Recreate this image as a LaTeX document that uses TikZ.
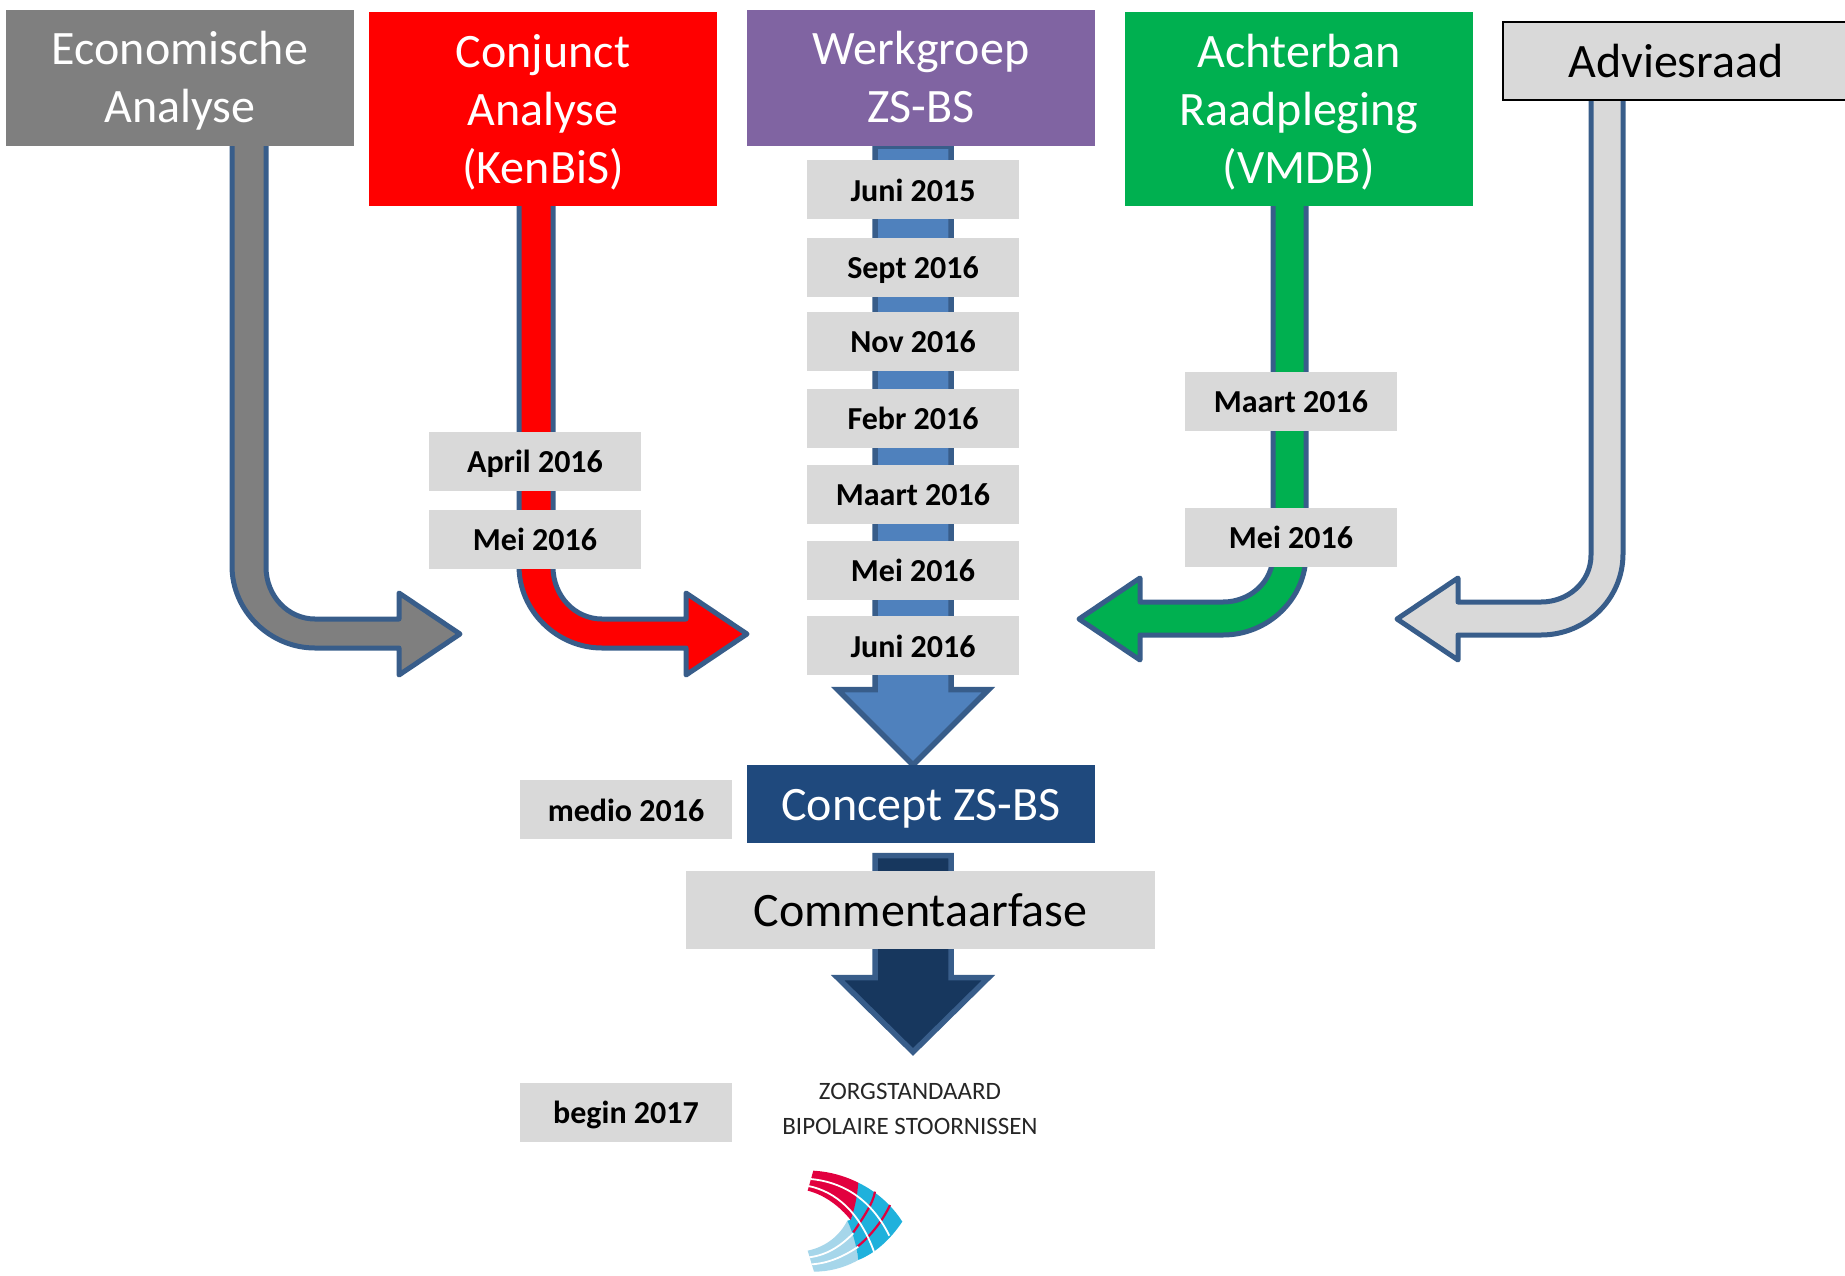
\documentclass[tikz,border=0pt]{standalone}
\usepackage{fontspec}
\usetikzlibrary{backgrounds}
\setmainfont{Carlito}
\definecolor{lgrey}{HTML}{D9D9D9}
\definecolor{mgrey}{HTML}{7F7F7F}
\definecolor{purp}{HTML}{8064A2}
\definecolor{grn}{HTML}{00B050}
\definecolor{navy}{HTML}{1F497D}
\definecolor{navyd}{HTML}{17375E}
\definecolor{arrowedge}{HTML}{385D8A}
\definecolor{blu}{HTML}{4F81BD}
\definecolor{lred}{HTML}{E2003F}
\definecolor{lcy}{HTML}{1FB1DC}
\definecolor{llb}{HTML}{A6D6EA}
\newcommand{\bs}{\rule[-12.7pt]{0pt}{58pt}}
\newcommand{\bt}{\rule[-13.8pt]{0pt}{58pt}}
\newcommand{\ds}{\rule[-18pt]{0pt}{59pt}}
\tikzset{
 x=1pt,y=-1pt,
 blockarrow/.style={draw=arrowedge,line width=5pt,line join=round},
 straightarrow/.style={draw=arrowedge,line width=5.5pt,miter limit=10},
 bigbox/.style={draw=none,inner sep=0pt,outer sep=0pt,align=center,font=\fontsize{48}{58}\selectfont,text=white},
 datebox/.style={fill=lgrey,minimum width=212pt,minimum height=59pt,inner sep=0pt,outer sep=0pt,font=\fontsize{32}{34}\selectfont\bfseries,text=black},
}
\begin{document}
\begin{tikzpicture}
\useasboundingbox (0,0) rectangle (1845,1275);
% header boxes
\node[bigbox,fill=mgrey,minimum width=348pt,minimum height=136pt] (eco) at (180,78) {\bt Economische\\\bt Analyse};
\node[bigbox,fill=red,minimum width=348pt,minimum height=194pt] (con) at (543,109) {\bs Conjunct\\\bs Analyse\\\bs (KenBiS)};
\node[bigbox,fill=purp,minimum width=348pt,minimum height=136pt] (wer) at (921,78) {\bt Werkgroep\\\bt ZS-BS};
\node[bigbox,fill=grn,minimum width=348pt,minimum height=194pt] (ach) at (1299,109) {\bs Achterban\\\bs Raadpleging\\\bs (VMDB)};
\path[fill=lgrey,draw=black,line width=1.5pt] (1845,22) -- (1503,22) -- (1503,100) -- (1845,100);
\node[bigbox,text=black,minimum height=78pt] (adv) at (1676,61) {\bs Adviesraad};
\node[bigbox,fill=navy,minimum width=348pt,minimum height=78pt] (cpt) at (921,804) {\bs Concept ZS-BS};
\node[bigbox,fill=lgrey,text=black,minimum width=469pt,minimum height=78pt] (com) at (920.5,910) {\bs Commentaarfase};
% dates
\node[datebox] (d1) at (913,189.5) {\ds Juni 2015};
\node[datebox] (d2) at (913,267) {\ds Sept 2016};
\node[datebox] (d3) at (913,341) {\ds Nov 2016};
\node[datebox] (d4) at (913,418) {\ds Febr 2016};
\node[datebox] (d5) at (913,494) {\ds Maart 2016};
\node[datebox] (d6) at (913,570) {\ds Mei 2016};
\node[datebox] (d7) at (913,645.5) {\ds Juni 2016};
\node[datebox] (r1) at (535,461) {\ds April 2016};
\node[datebox] (r2) at (535,539) {\ds Mei 2016};
\node[datebox] (g1) at (1291,401) {\ds Maart 2016};
\node[datebox] (g2) at (1291,537) {\ds Mei 2016};
\node[datebox] (med) at (626,809.5) {\ds medio 2016};
\node[datebox] (beg) at (626,1112) {\ds begin 2017};
\node[font=\fontsize{25}{34.5}\selectfont,align=center,text=black!85,inner sep=0pt] (zs) at (910,1109) {ZORGSTANDAARD\\BIPOLAIRE STOORNISSEN};
% arrow end points
\coordinate (ecoL) at (232,0);
\coordinate (ecoR) at (266,0);
\coordinate (conL) at (519,0);
\coordinate (conR) at (553,0);
\coordinate (achL) at (1273,0);
\coordinate (achR) at (1306,0);
\coordinate (advL) at (1591,0);
\coordinate (advR) at (1623,0);
\coordinate (werL) at (875,0);
\coordinate (werM) at (913,0);
\coordinate (werR) at (951,0);
\coordinate (ecoTip) at (460,634);
\coordinate (conTip) at (747,634);
\coordinate (achTip) at (1079,619);
\coordinate (advTip) at (1397,619);
\coordinate (comTip) at (913,1052);
\begin{scope}[on background layer]
% bent arrows
\draw[blockarrow,fill=mgrey] (ecoL |- eco.south) -- (232,566) .. controls (232,611) and (270,648) .. (315,648) -- (399,648) -- (399,675) -- (ecoTip) -- (399,593) -- (399,619) -- (315,619) .. controls (288,619) and (266,596) .. (266,567) -- (ecoR |- eco.south);
\draw[blockarrow,fill=red] (conL |- con.south) -- (519,566) .. controls (519,611) and (557,648) .. (602,648) -- (686,648) -- (686,675) -- (conTip) -- (686,593) -- (686,619) -- (602,619) .. controls (575,619) and (553,596) .. (553,567) -- (conR |- con.south);
\draw[blockarrow,fill=grn] (achR |- ach.south) -- (1306,554) .. controls (1306,599) and (1268,635) .. (1223,635) -- (1140,635) -- (1140,660) -- (achTip) -- (1140,578) -- (1140,602) -- (1223,602) .. controls (1250,602) and (1273,582) .. (1273,555) -- (achL |- ach.south);
\draw[blockarrow,fill=lgrey] (advR |- adv.south) -- (1623,554) .. controls (1623,599) and (1586,635) .. (1541,635) -- (1458,635) -- (1458,660) -- (advTip) -- (1458,578) -- (1458,602) -- (1541,602) .. controls (1568,602) and (1591,582) .. (1591,555) -- (advL |- adv.south);
% straight arrows
\draw[straightarrow,fill=blu] (werL |- wer.south) -- (875,689.7) -- (837.6,689.7) -- (werM |- cpt.north) -- (988.4,689.7) -- (951,689.7) -- (werR |- wer.south) -- cycle;
\draw[straightarrow,fill=navyd] (875,855.5) -- (875,977.7) -- (837.6,977.7) -- (comTip) -- (988.4,977.7) -- (951,977.7) -- (951,855.5) -- cycle;
\end{scope}
% logo
\begin{scope}[shift={(740,1060)},x=0.3333pt,y=-0.3333pt]
 \fill[llb] (203,572) .. controls (260,560) and (300,525) .. (322,482) -- (345,530) -- (355,600) .. controls (310,625) and (265,635) .. (222,635) -- cycle;
 \fill[lcy] (355,368) .. controls (410,395) and (455,435) .. (487,485) .. controls (450,540) and (405,580) .. (355,600) .. controls (350,560) and (340,520) .. (322,482) -- (332,480) .. controls (345,440) and (350,400) .. (355,368) -- cycle;
 \fill[lred] (220,332) .. controls (270,335) and (315,348) .. (355,368) .. controls (352,405) and (345,445) .. (332,480) .. controls (300,440) and (255,405) .. (203,392) -- cycle;
 \draw[lred,line width=2.2pt] (405,395) .. controls (400,430) and (365,480) .. (340,517);
 \draw[lred,line width=2.2pt] (450,435) .. controls (430,480) and (390,530) .. (352,560);
 \draw[white,line width=1.8pt] (212,357) .. controls (300,365) and (390,410) .. (448,527);
 \draw[white,line width=1.8pt] (205,378) .. controls (290,395) and (360,460) .. (402,575);
 \draw[white,line width=1.8pt] (208,592) .. controls (260,585) and (300,560) .. (340,520);
 \draw[white,line width=1.8pt] (215,613) .. controls (265,610) and (310,590) .. (355,560);
\end{scope}
\end{tikzpicture}
\end{document}
